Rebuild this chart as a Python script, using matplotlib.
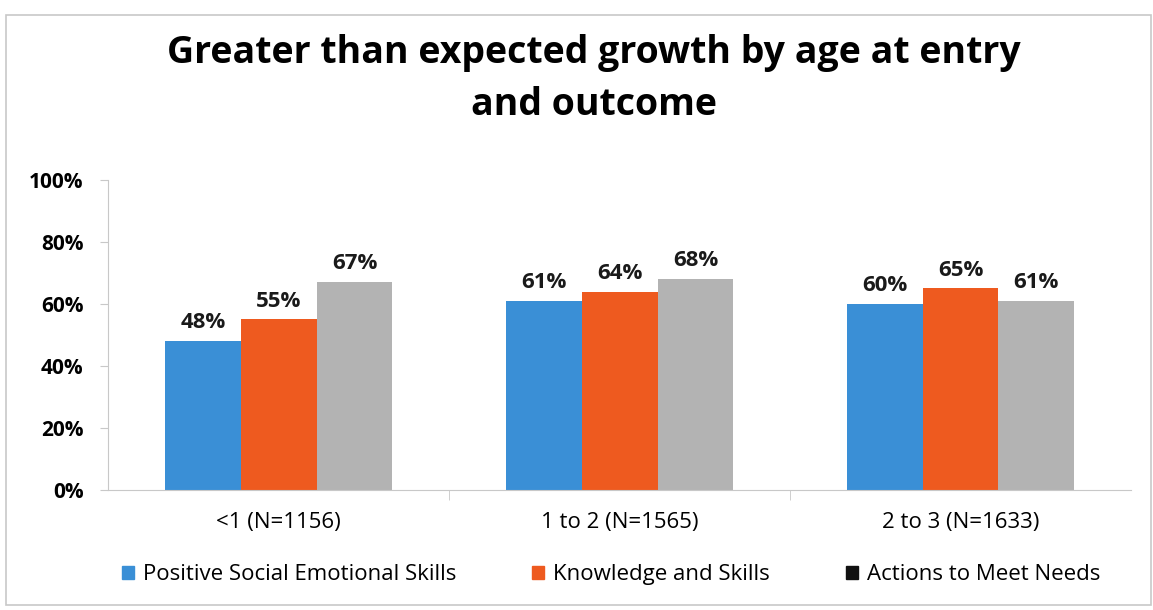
import matplotlib.pyplot as plt
import numpy as np
from matplotlib.patches import Rectangle

groups = ["<1 (N=1156)", "1 to 2 (N=1565)", "2 to 3 (N=1633)"]
series = ["Positive Social Emotional Skills", "Knowledge and Skills", "Actions to Meet Needs"]
social = [48, 61, 60]
knowledge = [55, 64, 65]
actions = [67, 68, 61]
colors = ["#3a8fd6", "#ee5a1f", "#b3b3b3"]
legend_colors = ["#3a8fd6", "#ee5a1f", "#111111"]

plt.rcParams['font.family'] = ['Open Sans', 'DejaVu Sans']

fig = plt.figure(figsize=(11.53, 6.10), dpi=100)
fig.patches.append(Rectangle((0.005, 0.008), 0.993, 0.968, transform=fig.transFigure,
                             fill=False, edgecolor="#c8c8c8", linewidth=1.2))

ax = fig.add_axes([0.094, 0.197, 0.887, 0.508])

x = np.arange(len(groups))
w = 0.222
bars = []
for i, (vals, c) in enumerate(zip([social, knowledge, actions], colors)):
    b = ax.bar(x + (i - 1) * w, vals, w, color=c, label=series[i])
    bars.append(b)
    for xi, v in zip(x + (i - 1) * w, vals):
        ax.text(xi, v + 2.5, f"{v}%", ha="center", va="bottom",
                fontsize=16, fontweight="bold", color="#1a1a1a")

ax.set_ylim(0, 100)
ax.set_xlim(-0.5, len(groups) - 0.5)
ax.set_yticks(range(0, 101, 20))
ax.set_yticklabels([f"{t}%" for t in range(0, 101, 20)], fontsize=15, fontweight="bold")
ax.set_xticks(x)
ax.set_xticklabels(groups, fontsize=16)
ax.set_xticks([0.5, 1.5], minor=True)
ax.tick_params(axis="x", which="major", length=0, pad=16)
ax.tick_params(axis="x", which="minor", length=7, color="#c8c8c8")
ax.tick_params(axis="y", length=6, color="#c8c8c8", pad=12)
for s in ["top", "right"]:
    ax.spines[s].set_visible(False)
for s in ["left", "bottom"]:
    ax.spines[s].set_color("#c8c8c8")

fig.text(0.515, 0.913, "Greater than expected growth by age at entry", ha="center",
         va="center", fontsize=27, fontweight="bold")
fig.text(0.515, 0.828, "and outcome", ha="center", va="center", fontsize=27, fontweight="bold")

leg = fig.legend(handles=bars, labels=series, loc="center", bbox_to_anchor=(0.53, 0.058),
                 ncol=3, frameon=False, fontsize=16, handlelength=0.55, handleheight=0.55,
                 columnspacing=3.4, handletextpad=0.4)
for h, c in zip(leg.legend_handles, legend_colors):
    h.set_color(c)

fig.savefig("out.png", dpi=100)
